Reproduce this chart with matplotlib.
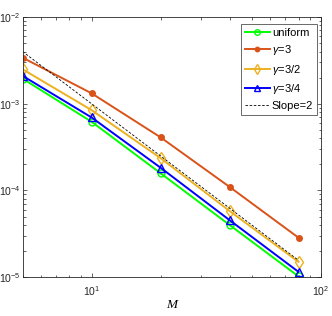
import numpy as np
import matplotlib
matplotlib.use("Agg")
import matplotlib.pyplot as plt

# Grid sizes
M = [5, 10, 20, 40, 80]

# Errors
err_uniform = [1.95e-3, 6.2e-4, 1.58e-4, 4.0e-5, 1.02e-5]
err_g3 = [3.4e-3, 1.32e-3, 4.1e-4, 1.1e-4, 2.85e-5]
err_g32 = [2.5e-3, 8.45e-4, 2.36e-4, 5.8e-5, 1.5e-5]
err_g34 = [2.1e-3, 6.95e-4, 1.83e-4, 4.55e-5, 1.15e-5]

# Reference slope line
slope_vals = [4.0e-3, 1.0e-3, 2.5e-4, 6.25e-5, 1.5625e-5]

plt.rcParams["font.family"] = ["Liberation Sans", "DejaVu Sans"]
plt.rcParams["mathtext.fontset"] = "custom"
plt.rcParams["mathtext.rm"] = "Liberation Sans"
plt.rcParams["mathtext.it"] = "Liberation Sans:italic"

fig = plt.figure(figsize=(3.32, 3.16), dpi=100)
ax = fig.add_axes([0.068, 0.123, 0.898, 0.823])

lw = 1.4
ax.plot(M, err_uniform, color="#00ff00", marker="o", markersize=5,
        markerfacecolor="none", linewidth=lw, label="uniform")
ax.plot(M, err_g3, color="#d95319", marker="o", markersize=4,
        linewidth=lw, label=r"$\gamma$=3")
ax.plot(M, err_g32, color="#edb120", marker="d", markersize=6,
        markerfacecolor="none", linewidth=lw, label=r"$\gamma$=3/2")
ax.plot(M, err_g34, color="#0000ff", marker="^", markersize=6,
        markerfacecolor="none", linewidth=lw, label=r"$\gamma$=3/4")
ax.plot(M, slope_vals, color="black", linestyle="--", linewidth=0.6,
        dashes=(3, 2), label="Slope=2")

ax.set_xscale("log")
ax.set_yscale("log")
ax.set_xlim(5, 100)
ax.set_ylim(1e-5, 1e-2)

ax.tick_params(which="both", direction="in", top=True, right=True,
               labelsize=7.5, colors="#262626", width=0.5)
ax.tick_params(which="major", length=3)
ax.tick_params(which="minor", length=1.8)
ax.tick_params(axis="y", pad=1.5)
ax.tick_params(axis="x", pad=5)
for s in ax.spines.values():
    s.set_linewidth(0.6)
    s.set_color("#262626")

ax.set_xlabel("M", fontsize=9.5, fontfamily="Liberation Serif",
              fontstyle="italic", labelpad=1)

leg = ax.legend(loc="upper right", bbox_to_anchor=(0.988, 0.973),
                borderaxespad=0, fontsize=8, frameon=True, fancybox=False,
                edgecolor="#262626", handlelength=2.3, borderpad=0.35,
                labelspacing=0.48, handletextpad=0.15, markerscale=0.8)
leg.get_frame().set_linewidth(0.6)

fig.savefig("out.png", dpi=100)
